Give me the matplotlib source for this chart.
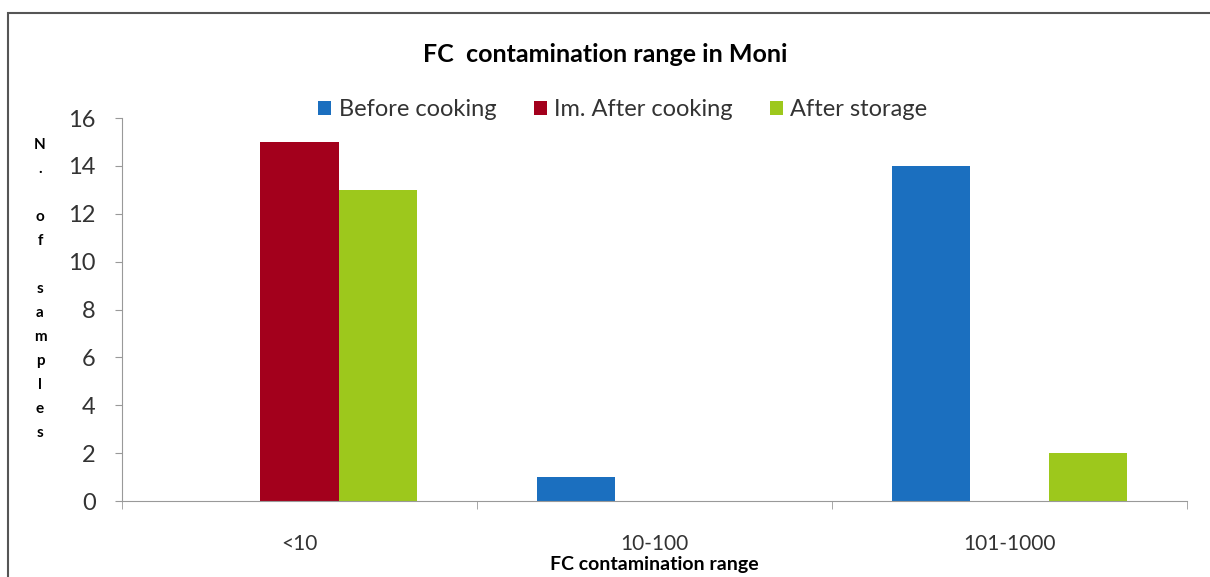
import matplotlib.pyplot as plt
from matplotlib.patches import Rectangle
import numpy as np

plt.rcParams['font.family'] = ['Lato', 'DejaVu Sans']

categories = ['<10', '10-100', '101-1000']
series = ['Before cooking', 'Im. After cooking', 'After storage']
before_cooking = [0, 1, 14]
after_cooking = [15, 0, 0]
after_storage = [13, 0, 2]
colors = ['#1b6fbf', '#a3001c', '#9dc81c']

fig = plt.figure(figsize=(12.1, 5.77), dpi=100)
ax = fig.add_axes([122 / 1210, 1 - 501 / 577, (1187 - 122) / 1210, (501 - 118) / 577])

x = np.arange(len(categories))
w = 0.22
for i, (vals, name) in enumerate(zip([before_cooking, after_cooking, after_storage], series)):
    ax.bar(x + (i - 1) * w, vals, w, color=colors[i], label=name)

ax.set_xlim(-0.5, 2.5)
ax.set_ylim(0, 16)
ax.set_yticks(range(0, 17, 2))
ax.tick_params(axis='y', labelsize=17, length=5, color='#999999', labelcolor='#333333', pad=14)
ax.set_xticks(x)
ax.set_xticklabels(categories)
ax.tick_params(axis='x', which='major', length=0, labelsize=15, pad=24, labelcolor='#333333')
ax.set_xticks(np.arange(-0.5, 3, 1), minor=True)
ax.tick_params(axis='x', which='minor', length=6, color='#999999')
for s in ['top', 'right']:
    ax.spines[s].set_visible(False)
for s in ['left', 'bottom']:
    ax.spines[s].set_color('#999999')

ax.set_xlabel('FC contamination range', fontsize=14, fontweight='bold', labelpad=1)

fig.text(0.5, 1 - 55 / 577, 'FC  contamination range in Moni', ha='center', va='center',
         fontsize=18, fontweight='bold')

leg = fig.legend(loc='center', bbox_to_anchor=(623 / 1210, 1 - 110 / 577), ncol=3, frameon=False,
                 fontsize=17, handlelength=0.55, handleheight=0.55, handletextpad=0.3, columnspacing=1.6)
for t in leg.get_texts():
    t.set_color('#333333')

# stacked y label letters
letters = ['N', '.', '', 'o', 'f', '', 's', 'a', 'm', 'p', 'l', 'e', 's']
for i, ch in enumerate(letters):
    fig.text(40 / 1210, 1 - (145 + 24 * i) / 577, ch, ha='center', va='center',
             fontsize=11, fontweight='bold')

# outer border
fig.patches.append(Rectangle((8 / 1210, -0.05), 1.1, (577 - 13) / 577 + 0.05,
                             transform=fig.transFigure, fill=False, edgecolor='#555555', linewidth=1.5))

fig.savefig('out.png', dpi=100)
